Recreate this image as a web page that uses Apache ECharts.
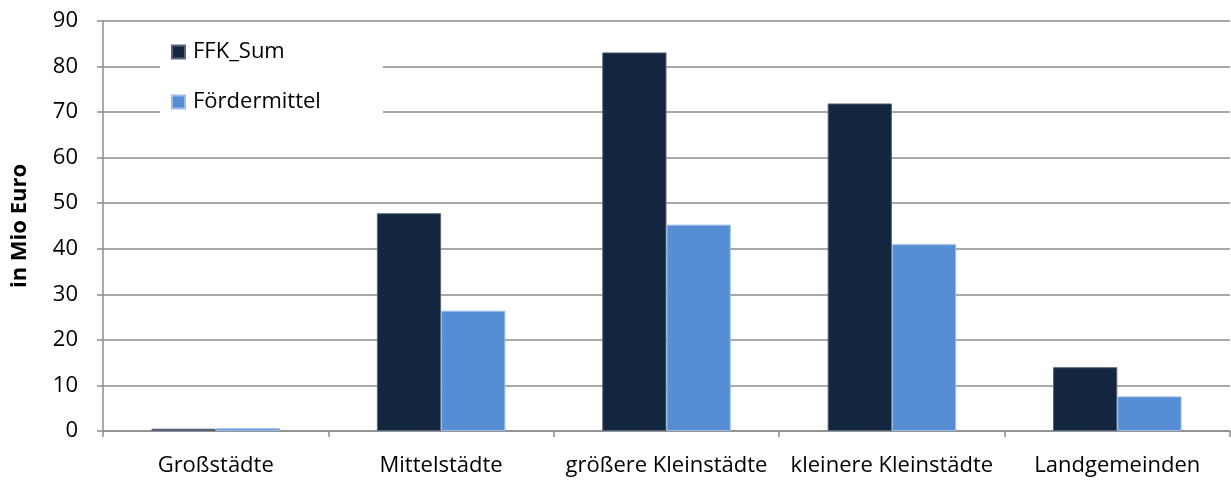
<!DOCTYPE html>
<html>
<head>
<meta charset="utf-8">
<script src="https://cdn.jsdelivr.net/npm/echarts@6/dist/echarts.min.js"></script>
<style>
  html, body { margin: 0; padding: 0; background: #fff; }
  #chart { width: 1231px; height: 480px; }
</style>
</head>
<body>
<div id="chart"></div>
<script>
// Städtische Gebietstypen und Summen je Typ (Mio Euro)
const categories = ['Großstädte', 'Mittelstädte', 'größere Kleinstädte', 'kleinere Kleinstädte', 'Landgemeinden'];
const ffkSum = [0.5, 47.8, 83.1, 71.9, 14.0];
const foerdermittel = [0.6, 26.4, 45.3, 41.0, 7.6];
const seriesNames = ['FFK_Sum', 'Fördermittel'];
const yTicks = { min: 0, max: 90, interval: 10 };

const FONT = '"Open Sans", "Noto Sans", sans-serif';
const AXIS = '#8c8c8c';

const chart = echarts.init(document.getElementById('chart'), null, { renderer: 'canvas' });
chart.setOption({
  animation: false,
  backgroundColor: '#fff',
  textStyle: { fontFamily: FONT },
  grid: { left: 103, right: 1, top: 21, bottom: 49, outerBoundsMode: 'none', containLabel: false },
  legend: {
    orient: 'vertical',
    left: 160,
    top: 31,
    padding: [10, 62, 12, 11],
    backgroundColor: '#fff',
    itemWidth: 13,
    itemHeight: 13,
    itemGap: 28,
    icon: 'rect',
    textStyle: { fontSize: 22, color: '#000', fontFamily: FONT, padding: [0, 0, 0, 3] },
    data: seriesNames
  },
  xAxis: {
    type: 'category',
    data: categories,
    axisLine: { lineStyle: { color: AXIS, width: 1.5 } },
    axisTick: { show: true, length: 6, alignWithLabel: false, lineStyle: { color: AXIS, width: 1.5 } },
    axisLabel: { fontSize: 22, color: '#000', margin: 24, fontFamily: FONT, interval: 0 }
  },
  yAxis: {
    type: 'value',
    min: yTicks.min,
    max: yTicks.max,
    interval: yTicks.interval,
    name: 'in Mio Euro',
    nameLocation: 'middle',
    nameGap: 72,
    nameTextStyle: { fontSize: 22, fontWeight: 'bold', color: '#000', fontFamily: FONT },
    axisLine: { show: true, lineStyle: { color: AXIS, width: 1.5 } },
    axisTick: { show: true, length: 6, inside: false, lineStyle: { color: AXIS, width: 1.5 } },
    axisLabel: { fontSize: 22, color: '#000', margin: 25, fontFamily: FONT },
    splitLine: { lineStyle: { color: AXIS, width: 1.5 } }
  },
  series: [
    {
      name: seriesNames[0],
      type: 'bar',
      data: ffkSum,
      barGap: '0%',
      barCategoryGap: '43%',
      itemStyle: { color: '#12263f', borderColor: '#56657a', borderWidth: 1 }
    },
    {
      name: seriesNames[1],
      type: 'bar',
      data: foerdermittel,
      itemStyle: { color: '#558ed5', borderColor: '#9bbde8', borderWidth: 1 }
    }
  ]
});
</script>
</body>
</html>
